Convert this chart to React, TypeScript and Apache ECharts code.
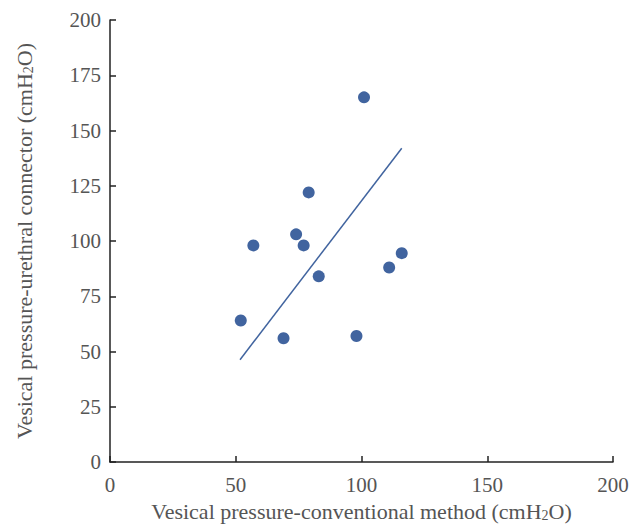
import React, { useEffect, useRef } from "react";
import * as echarts from "echarts";

const conventional = [52, 57, 69, 74, 77, 79, 83, 98, 101, 111, 116];
const connector = [64, 98, 56, 103, 98, 122, 84, 57, 165, 88, 94.5];
const fitX = [51.7, 116];
const fitY = [46.3, 142];
const xTicks = [0, 50, 100, 150, 200];
const yTicks = [0, 25, 50, 75, 100, 125, 150, 175, 200];

const FONT = "'Liberation Serif', 'DejaVu Serif', serif";
const BLUE = "#41649f";
const TEXT = "#555555";

export default function App() {
  const ref = useRef<HTMLDivElement>(null);
  useEffect(() => {
    document.body.style.margin = "0";
    const chart = echarts.init(ref.current!, null, { renderer: "svg" });
    const rich = {
      a: { fontFamily: FONT, fontSize: 22, color: TEXT },
      s: { fontFamily: FONT, fontSize: 14, color: TEXT, padding: [8, 0, 0, 0] },
    };
    chart.setOption({
      animation: false,
      grid: {
        left: 110,
        right: 29,
        top: 20,
        bottom: 64,
        containLabel: false,
        outerBoundsMode: "none",
      },
      xAxis: {
        type: "value",
        min: xTicks[0],
        max: xTicks[xTicks.length - 1],
        interval: 50,
        name: "{a|Vesical pressure-conventional method (cmH}{s|2}{a|O)}",
        nameLocation: "middle",
        nameGap: 38,
        nameTextStyle: { rich },
        axisLine: { show: true, lineStyle: { color: "#222", width: 1.5 } },
        axisTick: { show: true, inside: true, length: 6, lineStyle: { color: "#222", width: 1.5 } },
        axisLabel: { fontFamily: FONT, fontSize: 21, color: TEXT, margin: 12 },
        splitLine: { show: false },
      },
      yAxis: {
        type: "value",
        min: yTicks[0],
        max: yTicks[yTicks.length - 1],
        interval: 25,
        name: "{a|Vesical pressure-urethral connector (cmH}{s|2}{a|O)}",
        nameLocation: "middle",
        nameGap: 75,
        nameRotate: 90,
        nameTextStyle: { rich },
        axisLine: { show: true, lineStyle: { color: "#222", width: 1.5 } },
        axisTick: { show: true, inside: true, length: 6, lineStyle: { color: "#222", width: 1.5 } },
        axisLabel: { fontFamily: FONT, fontSize: 21, color: TEXT, margin: 9 },
        splitLine: { show: false },
      },
      series: [
        {
          type: "scatter",
          data: conventional.map((x, i) => [x, connector[i]]),
          symbolSize: 12,
          itemStyle: { color: BLUE, opacity: 1 },
        },
        {
          type: "line",
          data: fitX.map((x, i) => [x, fitY[i]]),
          symbol: "none",
          lineStyle: { color: BLUE, width: 1.5 },
        },
      ],
    });
    return () => chart.dispose();
  }, []);
  return <div ref={ref} style={{ width: 642, height: 526 }} />;
}
